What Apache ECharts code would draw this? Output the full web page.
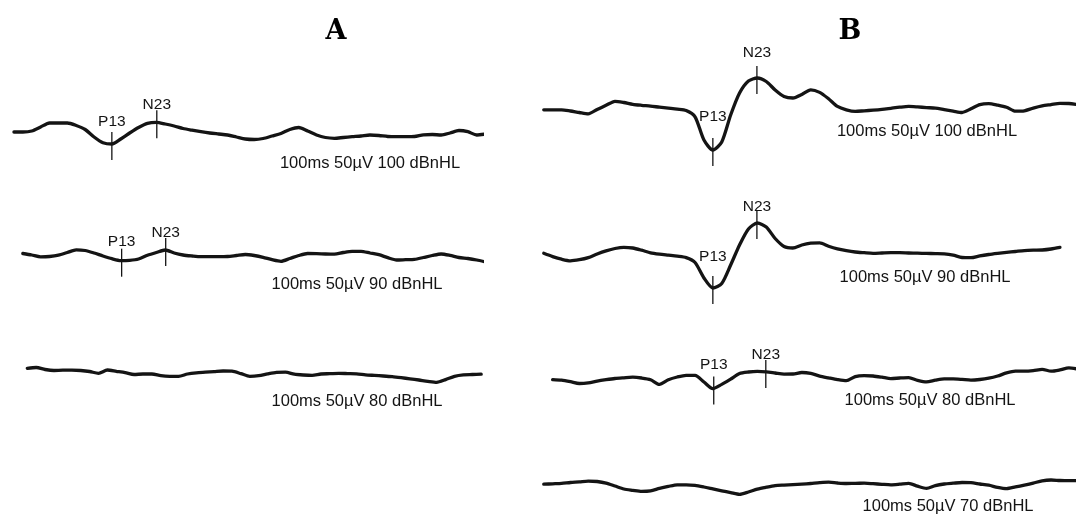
<!DOCTYPE html>
<html>
<head>
<meta charset="utf-8">
<script src="https://cdn.jsdelivr.net/npm/echarts@6/dist/echarts.min.js"></script>
<style>
  html, body { margin: 0; padding: 0; background: #ffffff; }
  #chart { width: 1077px; height: 515px; }
</style>
</head>
<body>
<div id="chart"></div>
<script>
// Sampling interval of every recorded waveform (ms)
const stepMs = 2;

// Panel A — amplitudes in µV (positive plotted downward), one sample every stepMs
const a100Start = -9;
const a100 = [2, 2, 1, -3, -7, -7, -7, -4.5, -0.5, 7, 12.7, 14, 9, 3, -2.5, -6.7, -7.7, -6, -4, -1.5,
  0.2, 1.7, 3, 4, 5, 7, 9, 9.5, 8.5, 6, 3.5, -0.5, -2.5, 1, 5, 7.5, 8.3, 7.5, 6.7, 6,
  5, 5.5, 6.5, 6.7, 6.7, 6.5, 4.8, 4.5, 5, 3, 0.5, 1.7, 5, 4];

const a90Start = -7;
const a90 = [-1.5, 0, 1.8, 1.5, 0.2, -2.5, -5.2, -4.5, -2, 1, 3.7, 5.6, 5.3, 4, 0.3, -2.5, -5, -2, 0, 1,
  1.7, 1.7, 1.7, 1.5, 0.5, -0.5, 0.5, 2.3, 4.7, 6.3, 3.5, 0.5, -1.5, -1.4, -1, -0.8, -2.5, -3.7, -3.7, -2,
  -0.3, 2.7, 5, 4.7, 4.4, 2.5, 0.5, -1, 0.4, 2.5, 3.5, 5, 7];

const a80Start = -6;
const a80 = [-3.7, -4.5, -2.5, -1.5, -1.8, -1.8, -1.5, -0.5, 1.3, -2, -0.7, 0.6, 2.5, 2, 2, 3.7, 4.3, 4.3, 2, 0.8,
  0.2, -0.4, -1, -0.8, 1.6, 4.3, 3.7, 1.9, 0.4, 0.2, 2.2, 3, 3.4, 2, 1.7, 1.3, 1.6, 1.9, 2.8, 3.4,
  4, 4.7, 5.7, 6.8, 8, 9.3, 10.3, 7.6, 4.3, 2.8, 2.5, 2.2];

// Panel B
const b100Start = -25;
const b100 = [1.8, 1.8, 1.8, 3, 4.5, 5.8, 1.5, -2.7, -6.7, -5.5, -3.7, -2.7, -1.9, -0.8, 0.2, 1.2, 2.6, 8.8, 32, 42,
  34, 7, -15, -27, -30, -26.5, -18, -11.5, -10, -13.5, -18.2, -15.6, -9.2, -1.6, 1.8, 3.4, 2.8, 2.2, 1.4, 0.3,
  -0.8, -1.6, -1.1, -0.4, 0.1, 1.6, 3.1, 4.5, 0.8, -3.4, -4.4, -2.9, -0.8, 3.2, 2.8, 0.1, -2.1, -3.4, -4.7, -4.5, -3.4];

const b90Start = -25;
const b90 = [-3.7, -0.4, 2.2, 3.8, 2.7, 0.6, -3, -6.1, -8.5, -9.7, -9, -6.8, -4.2, -2.8, -1.8, -0.8, 0.6, 5.5, 21, 31,
  26.5, 8, -12, -28, -34, -30, -18.5, -10.5, -9, -12, -13.8, -14.2, -10.8, -8.1, -6.3, -5, -4.3, -3.7, -4, -4.3,
  -4.3, -4, -3.8, -3.6, -3.4, -3.1, -1.8, 0.5, 0.7, -1.1, -2.5, -3.6, -4.6, -5.5, -6.4, -6.8, -7, -8, -9.6];

const b80Start = -23;
const b80 = [1.6, 2.2, 3.7, 5.5, 4.9, 3.1, 1.7, 0.5, -0.2, -0.8, 0, 1.7, 6.4, 1.8, -1, -2.7, -2.6, 4, 10.6, 6.4,
  1.1, -4.5, -6, -6.6, -6.1, -5, -3.9, -4, -5.5, -4.6, -1.9, -0.1, 1.6, 2.7, -1.4, -2.4, -2, -0.8, 0.6, 0,
  -0.4, 2.3, 3.9, 2.2, 0.9, 0.9, 1.4, 2.1, 1.5, 0.2, -2, -5.1, -6.8, -6.8, -7.4, -8.7, -6.8, -8.1, -10.1, -8.9];

const b70Start = -25;
const b70 = [-0.8, -1.2, -1.6, -2.5, -3.1, -3.9, -3.5, -1.9, 1, 4, 5.3, 6.4, 5.9, 3.4, 1.4, -0.2, -0.2, 0.4, 2, 3.9,
  5.8, 7.6, 9.4, 7, 4.1, 2.2, 0.6, 0.1, -0.3, -0.8, -1.5, -2.3, -2.8, -2, -1.5, -1.7, -1.8, -1.3, -0.7, -0.2,
  -0.8, -1.6, 1.2, 3.4, 0.6, -1, -1.8, -2.5, -2.3, -1, 0.2, 2.4, 3.6, 1.9, 0.1, -1.9, -4.2, -5, -4.5, -4.3, -4.3];

// Marked peaks: [latency ms, amplitude µV, name]
const a100Peaks = [[13.0, 14, 'P13'], [23.1, -7.7, 'N23']];
const a90Peaks = [[15.2, 5.7, 'P13'], [25.1, -5, 'N23']];
const b100Peaks = [[13.0, 42, 'P13'], [22.9, -30, 'N23']];
const b90Peaks = [[13.0, 31, 'P13'], [22.9, -34, 'N23']];
const b80Peaks = [[13.2, 10.6, 'P13'], [24.9, -6, 'N23']];

// Recording settings printed under each trace
const captions = ['100ms 50µV 100 dBnHL', '100ms 50µV 90 dBnHL', '100ms 50µV 80 dBnHL',
  '100ms 50µV 100 dBnHL', '100ms 50µV 90 dBnHL', '100ms 50µV 80 dBnHL', '100ms 50µV 70 dBnHL'];
const panelTitles = ['A', 'B'];

// Page layout: time window of each panel, baseline row and caption spot per trace
const pxPerMs = 4.45;
const panelWindow = {
  A: { min: -10, max: 96, zeroX: 54 },
  B: { min: -30, max: 94, zeroX: 655 }
};
const rows = [
  { panel: 'A', start: a100Start, values: a100, peaks: a100Peaks, baseY: 130, cap: [370, 163], lift: { P13: 22, N23: 18 } },
  { panel: 'A', start: a90Start, values: a90, peaks: a90Peaks, baseY: 255, cap: [357, 284], lift: { P13: 19, N23: 17 } },
  { panel: 'A', start: a80Start, values: a80, peaks: null, baseY: 372, cap: [357, 401] },
  { panel: 'B', start: b100Start, values: b100, peaks: b100Peaks, baseY: 108, cap: [927, 131], lift: { P13: 33, N23: 25 } },
  { panel: 'B', start: b90Start, values: b90, peaks: b90Peaks, baseY: 257, cap: [925, 277], lift: { P13: 31, N23: 16 } },
  { panel: 'B', start: b80Start, values: b80, peaks: b80Peaks, baseY: 378, cap: [930, 400], lift: { P13: 24, N23: 17 } },
  { panel: 'B', start: b70Start, values: b70, peaks: null, baseY: 485, cap: [948, 506] }
];
const titleSpots = [[336, 32], [850, 32]];
const halfRange = 25; // µV window kept inside each row (1 px per µV); larger swings draw past it

const ink = '#141414';
const sans = '"Liberation Sans", Arial, sans-serif';

const grids = [], xAxes = [], yAxes = [], series = [], graphics = [];

rows.forEach((row, i) => {
  const win = panelWindow[row.panel];
  grids.push({
    left: win.zeroX + win.min * pxPerMs,
    width: (win.max - win.min) * pxPerMs,
    top: row.baseY - halfRange,
    height: halfRange * 2,
    containLabel: false
  });
  xAxes.push({ type: 'value', gridIndex: i, min: win.min, max: win.max, show: false });
  yAxes.push({ type: 'value', gridIndex: i, min: -halfRange, max: halfRange, inverse: true, show: false });

  series.push({
    type: 'line',
    xAxisIndex: i,
    yAxisIndex: i,
    data: row.values.map((v, k) => [row.start + k * stepMs, v]),
    showSymbol: false,
    symbol: 'none',
    smooth: 0.25,
    clip: false,
    silent: true,
    lineStyle: { color: ink, width: 3.3, join: 'round', cap: 'round' }
  });

  if (row.peaks) {
    const peaks = row.peaks;
    const lift = row.lift;
    series.push({
      type: 'custom',
      xAxisIndex: i,
      yAxisIndex: i,
      clip: false,
      silent: true,
      encode: { x: 0, y: 1 },
      data: peaks.map(p => [p[0], p[1]]),
      renderItem: (params, api) => {
        const pt = api.coord([api.value(0), api.value(1)]);
        const name = peaks[params.dataIndex][2];
        return {
          type: 'group',
          children: [
            {
              type: 'line',
              shape: { x1: pt[0], y1: pt[1] - 12, x2: pt[0], y2: pt[1] + 16 },
              style: { stroke: ink, lineWidth: 1.3 }
            },
            {
              type: 'text',
              x: pt[0],
              y: pt[1] - lift[name],
              style: {
                text: name, fill: ink, fontSize: 15.5, fontFamily: sans,
                align: 'center', verticalAlign: 'middle'
              }
            }
          ]
        };
      }
    });
  }

  graphics.push({
    type: 'text',
    x: row.cap[0],
    y: row.cap[1],
    silent: true,
    style: {
      text: captions[i], fill: ink, fontSize: 16.5, fontFamily: sans,
      align: 'center', verticalAlign: 'middle'
    }
  });
});

panelTitles.forEach((t, i) => {
  graphics.push({
    type: 'text',
    x: titleSpots[i][0],
    y: titleSpots[i][1],
    silent: true,
    style: {
      text: t, fill: '#000', fontSize: 27, fontWeight: 'bold',
      fontFamily: '"DejaVu Serif", "Liberation Serif", serif',
      align: 'center', verticalAlign: 'middle'
    }
  });
});

const chart = echarts.init(document.getElementById('chart'), null, { renderer: 'canvas' });
chart.setOption({
  backgroundColor: '#ffffff',
  animation: false,
  grid: grids,
  xAxis: xAxes,
  yAxis: yAxes,
  series: series,
  graphic: graphics
});
</script>
</body>
</html>
